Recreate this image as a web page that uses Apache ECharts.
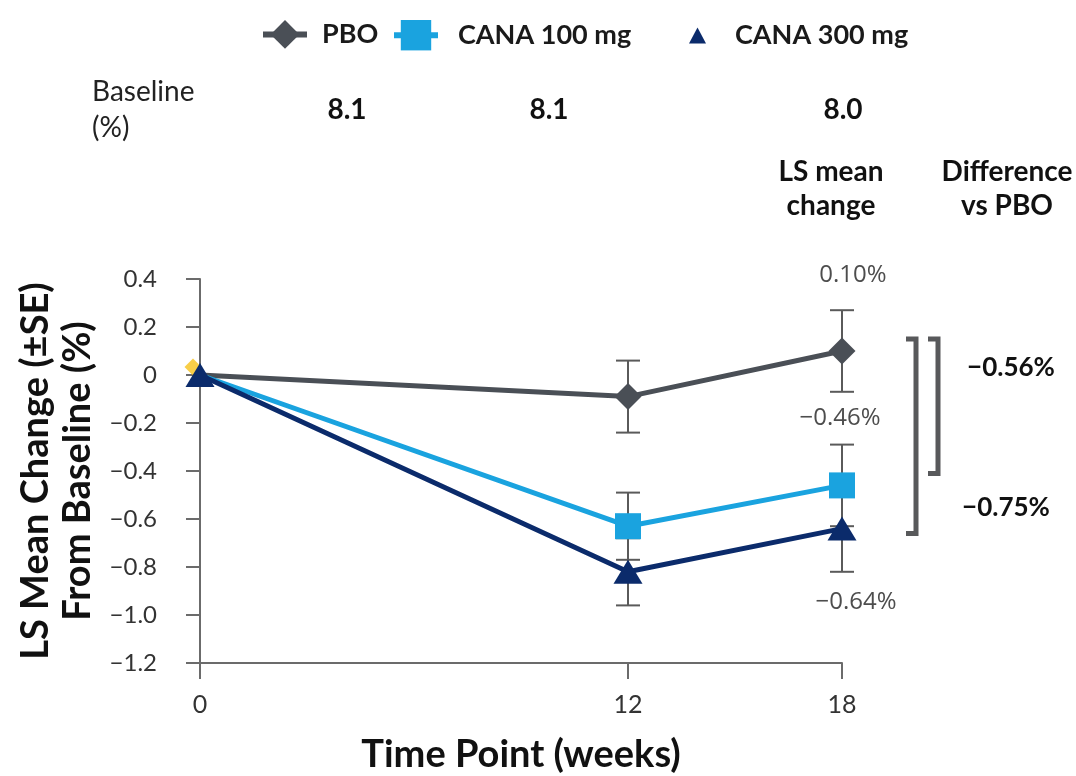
<!DOCTYPE html>
<html>
<head>
<meta charset="utf-8">
<script src="https://cdn.jsdelivr.net/npm/echarts@6/dist/echarts.min.js"></script>
<style>
  html, body { margin: 0; padding: 0; background: #fff; }
  #chart { width: 1076px; height: 776px; }
</style>
</head>
<body>
<div id="chart"></div>
<script>
// Study visits (weeks) and LS mean change from baseline in HbA1c (%)
const weeks = [0, 12, 18];
const pbo = [0, -0.09, 0.10];
const cana100 = [0, -0.63, -0.46];
const cana300 = [0, -0.82, -0.64];
// Standard errors at each visit
const pboSE = [0, 0.15, 0.17];
const cana100SE = [0, 0.14, 0.17];
const cana300SE = [0, 0.14, 0.18];
// Baseline HbA1c per arm
const armNames = ['PBO', 'CANA 100 mg', 'CANA 300 mg'];
const baselines = ['8.1', '8.1', '8.0'];
// Week-18 differences vs placebo and the brackets that group them
const diffLabels = ['\u22120.56%', '\u22120.75%'];
const brackets = [[0.15, -0.41], [0.15, -0.66]];

const FONT = 'Lato';
const C_PBO = '#4a4f56';
const C_100 = '#1aa3df';
const C_300 = '#0b2b6b';
const C_ERR = '#5a5a5a';

const minus = s => s.replace('-', '\u2212');
const pct = v => minus(v.toFixed(2)) + '%';

function errorSeries(name, vals, ses) {
  return {
    type: 'custom',
    name: name + ' SE',
    z: 1,
    silent: true,
    data: weeks.map((w, i) => [w, vals[i], ses[i]]),
    renderItem: function (params, api) {
      const se = api.value(2);
      if (!se) return null;
      const x = api.value(0), y = api.value(1);
      const top = api.coord([x, y + se]);
      const bot = api.coord([x, y - se]);
      const hw = 12;
      const style = { stroke: C_ERR, lineWidth: 2, fill: null };
      return {
        type: 'group',
        children: [
          { type: 'line', shape: { x1: top[0], y1: top[1], x2: bot[0], y2: bot[1] }, style },
          { type: 'line', shape: { x1: top[0] - hw, y1: top[1], x2: top[0] + hw, y2: top[1] }, style },
          { type: 'line', shape: { x1: bot[0] - hw, y1: bot[1], x2: bot[0] + hw, y2: bot[1] }, style }
        ]
      };
    }
  };
}

// End-of-study value labels
const endLabel = {
  PBO: { position: 'top', distance: 50, offset: [11, 0] },
  C100: { position: 'top', distance: 42, offset: [-2, 0] },
  C300: { position: 'bottom', distance: 50, offset: [14, 0] }
};
function lineData(vals, lab, markStart) {
  return weeks.map((w, i) => {
    const item = { value: [w, vals[i]] };
    if (i === 0 && !markStart) item.symbol = 'none';
    if (i === weeks.length - 1) {
      item.label = Object.assign({
        show: true,
        formatter: p => pct(p.value[1]),
        color: '#4d4d4d',
        fontFamily: 'Open Sans',
        fontSize: 24
      }, lab);
    }
    return item;
  });
}

const legendText = { fontFamily: FONT, fontSize: 27, fontWeight: 'bold', color: '#1a1a1a' };

const option = {
  backgroundColor: '#ffffff',
  animation: false,
  textStyle: { fontFamily: FONT },
  legend: [
    { left: 255, top: 15, itemWidth: 44, itemHeight: 36, data: [armNames[0]],
      lineStyle: { width: 6 },
      textStyle: Object.assign({ padding: [0, 0, 0, 10] }, legendText) },
    { left: 386, top: 15, itemWidth: 44, itemHeight: 38, data: [armNames[1]],
      lineStyle: { width: 6 },
      textStyle: Object.assign({ padding: [0, 0, 0, 15] }, legendText) },
    { left: 684, top: 17, itemWidth: 17, itemHeight: 16, data: [{ name: armNames[2], icon: 'triangle' }],
      textStyle: Object.assign({ padding: [0, 0, 0, 24] }, legendText) }
  ],
  grid: { left: 200, right: 234, top: 279, bottom: 113, containLabel: false },
  xAxis: {
    type: 'value',
    min: 0,
    max: 18,
    name: 'Time Point (weeks)',
    nameLocation: 'middle',
    nameGap: 73,
    nameTextStyle: { fontFamily: FONT, fontSize: 38, fontWeight: 'bold', color: '#111' },
    axisLine: { show: true, onZero: false, lineStyle: { color: '#6b6b6b', width: 2 } },
    axisTick: { show: true, length: 16, customValues: weeks, lineStyle: { color: '#6b6b6b', width: 2 } },
    axisLabel: { customValues: weeks, margin: 29, fontFamily: FONT, fontSize: 25, color: '#333' },
    splitLine: { show: false }
  },
  yAxis: {
    type: 'value',
    min: -1.2,
    max: 0.4,
    interval: 0.2,
    name: 'LS Mean Change (\u00b1SE)\nFrom Baseline (%)',
    nameLocation: 'middle',
    nameRotate: 90,
    nameGap: 87,
    nameTextStyle: { fontFamily: FONT, fontSize: 38, fontWeight: 'bold', color: '#111', lineHeight: 42 },
    axisLine: { show: true, lineStyle: { color: '#6b6b6b', width: 2 } },
    axisTick: { show: true, length: 14, lineStyle: { color: '#6b6b6b', width: 2 } },
    axisLabel: {
      margin: 43, fontFamily: FONT, fontSize: 24, color: '#333',
      formatter: v => {
        const r = Math.round(v * 10) / 10;
        return r === 0 ? '0' : minus(r.toFixed(1));
      }
    },
    splitLine: { show: false }
  },
  graphic: [
    { type: 'text', left: 92, top: 74, style: { text: 'Baseline\n(%)', fontFamily: FONT, fontSize: 28, lineHeight: 36, fill: '#222' } },
    ...baselines.map((b, i) => ({
      type: 'text', x: [347, 549, 843][i], y: 110,
      style: { text: b, fontFamily: FONT, fontSize: 28, fontWeight: 'bold', fill: '#111', align: 'center', verticalAlign: 'middle' }
    })),
    { type: 'text', x: 831, y: 189, style: { text: 'LS mean\nchange', fontFamily: FONT, fontSize: 28, fontWeight: 'bold', lineHeight: 34, fill: '#111', align: 'center', verticalAlign: 'middle' } },
    { type: 'text', x: 1007, y: 189, style: { text: 'Difference\nvs PBO', fontFamily: FONT, fontSize: 28, fontWeight: 'bold', lineHeight: 34, fill: '#111', align: 'center', verticalAlign: 'middle' } },
    ...diffLabels.map((d, i) => ({
      type: 'text', x: [1011, 1006][i], y: [368, 508][i],
      style: { text: d, fontFamily: FONT, fontSize: 26, fontWeight: 'bold', fill: '#111', align: 'center', verticalAlign: 'middle' }
    }))
  ],
  series: [
    errorSeries('PBO', pbo, pboSE),
    errorSeries('CANA 100 mg', cana100, cana100SE),
    errorSeries('CANA 300 mg', cana300, cana300SE),
    {
      type: 'scatter', name: 'origin', silent: true, z: 2,
      data: [[weeks[0], pbo[0]]],
      symbol: 'diamond', symbolSize: 17, symbolOffset: [-7, -8],
      itemStyle: { color: '#f6c21a' }
    },
    {
      type: 'line', name: armNames[0], z: 3,
      data: lineData(pbo, endLabel.PBO, false),
      symbol: 'diamond', symbolSize: 27,
      lineStyle: { color: C_PBO, width: 5 },
      itemStyle: { color: C_PBO }
    },
    {
      type: 'line', name: armNames[1], z: 4,
      data: lineData(cana100, endLabel.C100, false),
      symbol: 'rect', symbolSize: 26,
      lineStyle: { color: C_100, width: 5 },
      itemStyle: { color: C_100 }
    },
    {
      type: 'line', name: armNames[2], z: 5,
      data: lineData(cana300, endLabel.C300, true),
      symbol: 'triangle', symbolSize: [29, 24],
      lineStyle: { color: C_300, width: 5 },
      itemStyle: { color: C_300 }
    },
    {
      type: 'custom', name: 'brackets', silent: true, z: 2,
      clip: false,
      data: brackets.map((b, i) => [weeks[weeks.length - 1], b[0], b[1], i]),
      renderItem: function (params, api) {
        const x = api.value(0);
        const top = api.coord([x, api.value(1)]);
        const bot = api.coord([x, api.value(2)]);
        const bx = top[0] + (api.value(3) === 0 ? 96 : 74);
        const arm = 10;
        return {
          type: 'polyline',
          shape: { points: [[bx - arm, top[1]], [bx, top[1]], [bx, bot[1]], [bx - arm, bot[1]]] },
          style: { stroke: '#58595b', lineWidth: 5, fill: null, lineJoin: 'miter' }
        };
      }
    }
  ]
};

const chart = echarts.init(document.getElementById('chart'), null, { renderer: 'canvas' });
chart.setOption(option);
</script>
</body>
</html>
